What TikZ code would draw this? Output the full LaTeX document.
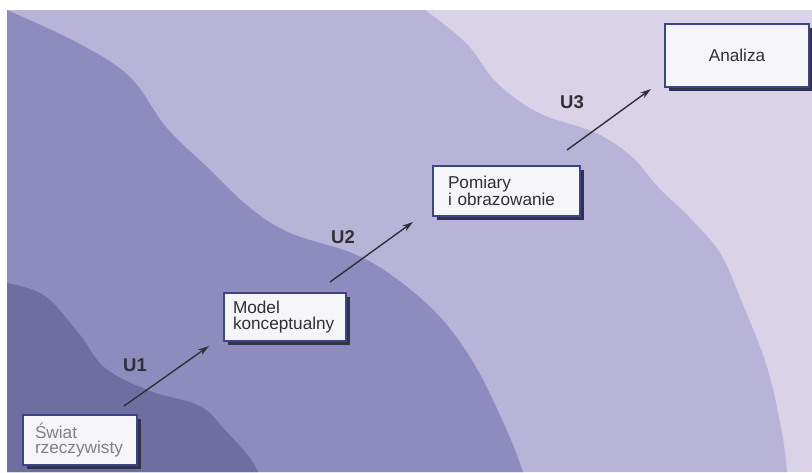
\documentclass[tikz,border=0pt]{standalone}
\usepackage{fontspec}
\setmainfont{Liberation Sans}
\usetikzlibrary{calc,shadows,arrows.meta}
\definecolor{bandA}{RGB}{110,110,160}
\definecolor{bandB}{RGB}{142,140,190}
\definecolor{bandC}{RGB}{184,180,215}
\definecolor{bandD}{RGB}{218,210,231}
\definecolor{boxline}{RGB}{58,70,138}
\definecolor{boxshadow}{RGB}{50,50,74}
\definecolor{boxfill}{RGB}{246,245,249}
\definecolor{txt}{RGB}{48,48,52}
\definecolor{arrcol}{RGB}{48,48,54}
\tikzset{
  stagebox/.style={draw=boxline, line width=2pt, fill=boxfill,
    rectangle, inner ysep=0pt, text=txt,
    font=\fontsize{17.2}{15.5}\selectfont,
    drop shadow={shadow xshift=3.5pt, shadow yshift=-3.5pt, fill=boxshadow, opacity=1}},
  ulabel/.style={font=\fontsize{18.5}{18.5}\selectfont\bfseries, text=txt, inner sep=0pt},
  stagearrow/.style={draw=arrcol, line width=1.4pt, -{Stealth[length=11pt,width=6.5pt]}}
}
\begin{document}
\begin{tikzpicture}[x=1pt,y=-1pt]
\useasboundingbox (0,0) rectangle (812,472);
\fill[white] (0,0) rectangle (812,472);
% background bands
\fill[bandD] (7,10) rectangle (812,472);
\fill[bandC] plot[smooth,tension=0.6] coordinates {(425,10) (466,43) (497,83) (539,113) (596,133) (632,157) (658,187) (689,217) (720,253) (741,300) (767,367) (782,433) (787,472)} -- (7,472) -- (7,10) -- cycle;
\fill[bandB] plot[smooth,tension=0.6] coordinates {(7,10) (78,43) (130,77) (166,127) (207,167) (249,207) (290,233) (352,253) (394,277) (440,317) (476,367) (508,433) (523,472)} -- (7,472) -- cycle;
\fill[bandA] plot[smooth,tension=0.6] coordinates {(7,283) (45,296) (80,335) (105,368) (150,391) (200,406) (225,430) (250,458) (258,472)} -- (7,472) -- cycle;
% boxes
\node[stagebox, minimum height=50pt, inner xsep=12pt, text width=90pt, align=left, text={rgb,255:red,128;green,128;blue,132}] (sw) at (80,440) {Świat\\rzeczywisty};
\node[stagebox, minimum height=48pt, inner xsep=9pt, text width=104pt, align=left] (mk) at (285,317) {Model\\konceptualny};
\node[stagebox, minimum height=50pt, inner xsep=15pt, text width=117pt, align=left] (pio) at (506.5,191) {Pomiary\\i obrazowanie};
\node[stagebox, minimum height=63pt, inner xsep=12pt, text width=120pt, align=center] (an) at (737,55.5) {Analiza};
% labels
\node[ulabel] (u1) at (135,365) {U1};
\node[ulabel] (u2) at (343,237) {U2};
\node[ulabel] (u3) at (572,102) {U3};
% arrows
\draw[stagearrow] ($(sw.north east)+(-14,-8)$) -- ($(mk.south west)+(-14,4)$);
\draw[stagearrow] ($(mk.north east)+(-17,-10)$) -- ($(pio.south west)+(-19,5)$);
\draw[stagearrow] ($(pio.north east)+(-14,-15)$) -- ($(an.south west)+(-13,1)$);
\end{tikzpicture}
\end{document}
